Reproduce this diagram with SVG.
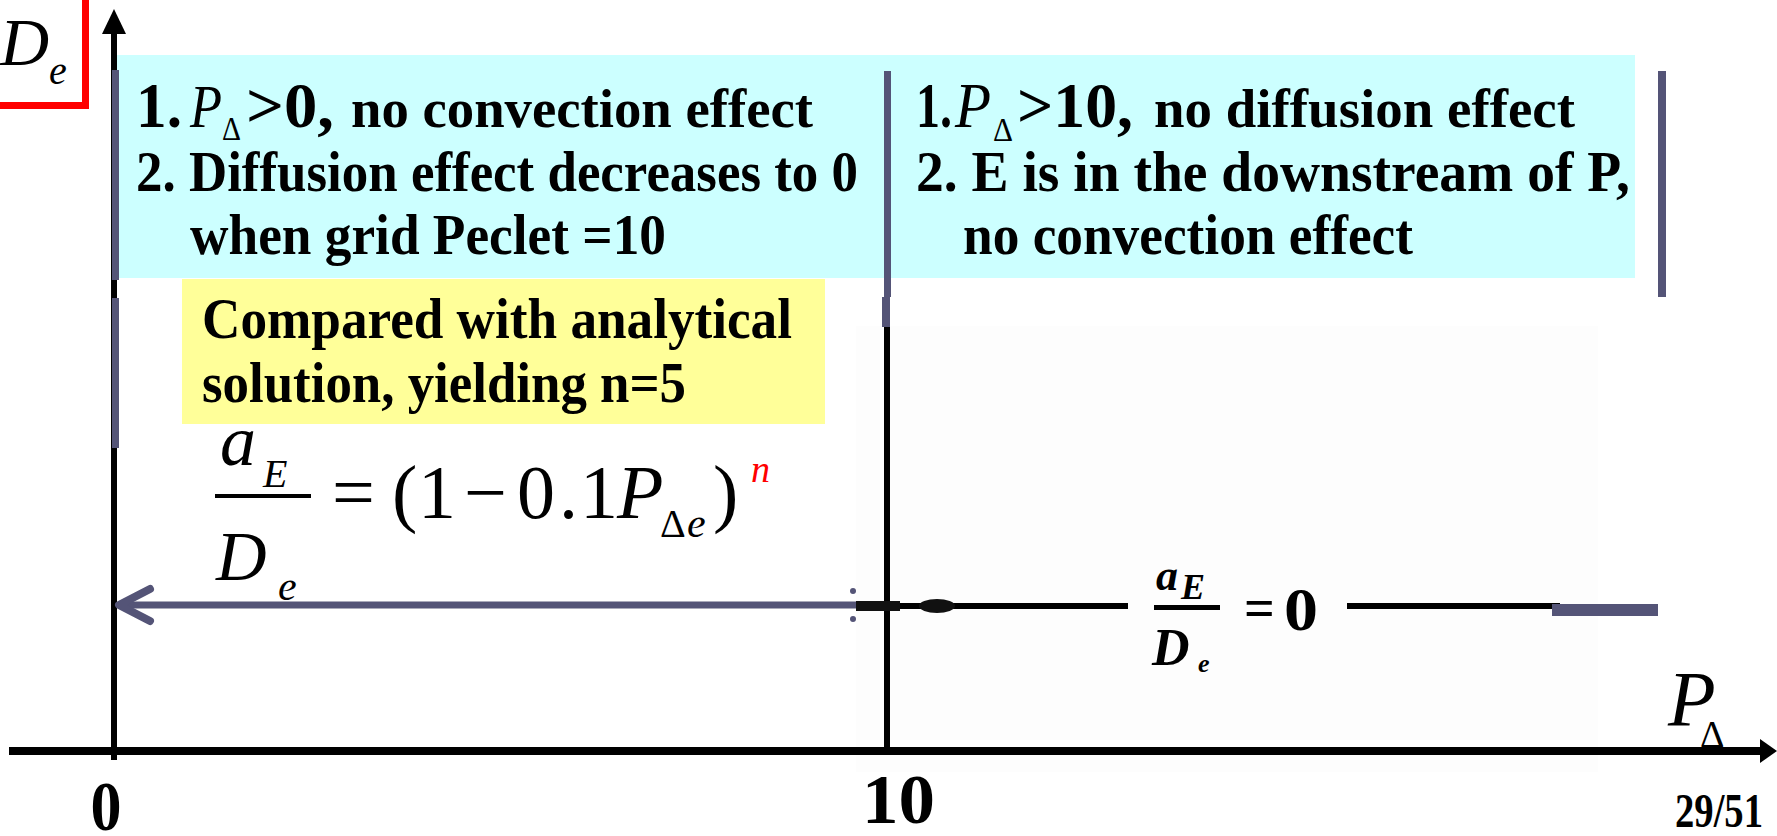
<svg xmlns="http://www.w3.org/2000/svg" width="1777" height="836" viewBox="0 0 1777 836">
<style>
.s{font-family:"Liberation Serif","Times New Roman",serif;}
.b{font-family:"Liberation Serif","Times New Roman",serif;font-weight:bold;}
.i{font-family:"Liberation Serif","Times New Roman",serif;font-style:italic;}
.bi{font-family:"Liberation Serif","Times New Roman",serif;font-style:italic;font-weight:bold;}
.slate{fill:#545477;}
</style>
<rect width="1777" height="836" fill="#ffffff"/>

<g id="red-label">
  <rect x="82" y="0" width="7" height="109" fill="#ff0000"/>
  <rect x="0" y="102" width="89" height="7" fill="#ff0000"/>
  <text class="i" x="0" y="65" font-size="68">D</text>
  <text class="i" x="49" y="84" font-size="40">e</text>
</g>

<g id="cyan-left">
  <rect x="117" y="55" width="770" height="223" fill="#ccffff"/>
  <text class="b" x="136" y="127" font-size="64" textLength="46" lengthAdjust="spacingAndGlyphs">1.</text>
  <text class="i" x="190" y="127" font-size="62" textLength="32" lengthAdjust="spacingAndGlyphs">P</text>
  <text class="s" x="222" y="140" font-size="34" textLength="19" lengthAdjust="spacingAndGlyphs">Δ</text>
  <text class="b" x="246" y="127" font-size="64" textLength="88" lengthAdjust="spacingAndGlyphs">&gt;0,</text>
  <text class="b" x="351" y="127" font-size="54" textLength="462" lengthAdjust="spacingAndGlyphs">no convection  effect</text>
  <text class="b" x="136" y="191" font-size="58" textLength="722" lengthAdjust="spacingAndGlyphs">2. Diffusion effect decreases to 0</text>
  <text class="b" x="190" y="254" font-size="58" textLength="476" lengthAdjust="spacingAndGlyphs">when grid Peclet =10</text>
</g>

<g id="cyan-right">
  <rect x="887" y="55" width="748" height="223" fill="#ccffff"/>
  <text class="b" x="916" y="127" font-size="64" textLength="36" lengthAdjust="spacingAndGlyphs">1.</text>
  <text class="i" x="955" y="127" font-size="64" textLength="36" lengthAdjust="spacingAndGlyphs">P</text>
  <text class="s" x="993" y="141" font-size="34" textLength="20" lengthAdjust="spacingAndGlyphs">Δ</text>
  <text class="b" x="1017" y="127" font-size="64" textLength="116" lengthAdjust="spacingAndGlyphs">&gt;10,</text>
  <text class="b" x="1154" y="127" font-size="54" textLength="421" lengthAdjust="spacingAndGlyphs">no diffusion  effect</text>
  <text class="b" x="916" y="191" font-size="58" textLength="714" lengthAdjust="spacingAndGlyphs">2. E is in the downstream of P,</text>
  <text class="b" x="963" y="254" font-size="58" textLength="450" lengthAdjust="spacingAndGlyphs">no convection effect</text>
</g>

<g id="yellow-note">
  <rect x="182" y="279" width="643" height="145" fill="#ffff99"/>
  <text class="b" x="202" y="338" font-size="56" textLength="590" lengthAdjust="spacingAndGlyphs">Compared with analytical</text>
  <text class="b" x="202" y="402" font-size="56" textLength="484" lengthAdjust="spacingAndGlyphs">solution, yielding n=5</text>
</g>

<g id="formula">
  <text class="i" x="220" y="465" font-size="72">a</text>
  <text class="i" x="263" y="487" font-size="40">E</text>
  <rect x="215" y="494" width="96" height="4" fill="#000"/>
  <text class="i" x="216" y="580" font-size="70">D</text>
  <text class="i" x="278" y="600" font-size="42">e</text>
  <text class="s" x="332" y="518" font-size="76">=</text>
  <text class="s" x="392" y="518" font-size="76">(</text>
  <text class="s" x="418" y="518" font-size="76">1</text>
  <text class="s" x="464" y="518" font-size="76">−</text>
  <text class="s" x="517" y="518" font-size="76">0</text>
  <text class="s" x="559" y="518" font-size="76">.</text>
  <text class="s" x="580" y="518" font-size="76">1</text>
  <text class="i" x="617" y="518" font-size="76">P</text>
  <text class="s" x="660" y="537" font-size="40">Δ</text>
  <text class="i" x="687" y="537" font-size="42">e</text>
  <text class="s" x="713" y="518" font-size="76">)</text>
  <text class="i" x="751" y="482" font-size="38" fill="#ff0000">n</text>
</g>

<g id="scan-graph">
  <rect x="856" y="326" width="742" height="446" fill="#fdfdfd"/>
  <rect x="884" y="327" width="6" height="425" fill="#000"/>
  <rect x="856" y="603" width="272" height="6" fill="#000"/>
  <rect x="856" y="601" width="44" height="10" fill="#111"/>
  <ellipse cx="937" cy="606" rx="18" ry="7" fill="#111"/>
  <rect x="1347" y="603" width="213" height="6" fill="#000"/>
  <text class="bi" x="1156" y="590" font-size="44">a</text>
  <text class="bi" x="1181" y="599" font-size="36">E</text>
  <rect x="1154" y="605" width="66" height="5" fill="#000"/>
  <text class="bi" x="1152" y="665" font-size="52">D</text>
  <text class="bi" x="1198" y="672" font-size="26">e</text>
  <text class="b" x="1244" y="626" font-size="54">=</text>
  <text class="b" x="1284" y="630" font-size="62" textLength="34" lengthAdjust="spacingAndGlyphs">0</text>
</g>

<g id="axes">
  <rect x="111" y="30" width="6" height="730" fill="#000"/>
  <polygon points="114,9 102,34 126,34" fill="#000"/>
  <rect x="9" y="747" width="1754" height="8" fill="#000"/>
  <polygon points="1777,751 1760,739 1760,763" fill="#000"/>
  <text class="b" x="106" y="830" font-size="70" text-anchor="middle" textLength="31" lengthAdjust="spacingAndGlyphs">0</text>
  <text class="b" x="862" y="823" font-size="70" textLength="73" lengthAdjust="spacingAndGlyphs">10</text>
  <text class="b" x="1675" y="827" font-size="49" textLength="88" lengthAdjust="spacingAndGlyphs">29/51</text>
  <text class="i" x="1668" y="725" font-size="78">P</text>
  <text class="s" x="1700" y="747" font-size="38">Δ</text>
</g>

<g id="connectors">
  <rect class="slate" x="112" y="70" width="7" height="210"/>
  <rect class="slate" x="112" y="298" width="7" height="150"/>
  <rect class="slate" x="884" y="71" width="7" height="226"/>
  <rect class="slate" x="882" y="297" width="8" height="30"/>
  <rect class="slate" x="1658" y="71" width="8" height="226"/>
  <rect class="slate" x="1552" y="604" width="106" height="12"/>
  <line x1="856" y1="605" x2="122" y2="605" stroke="#545477" stroke-width="7"/>
  <polyline points="150,589 119,605 150,621" fill="none" stroke="#545477" stroke-width="8" stroke-linecap="round" stroke-linejoin="round"/>
  <circle cx="853" cy="591" r="3" fill="#545477"/>
  <circle cx="853" cy="619" r="3" fill="#545477"/>
</g>
</svg>
